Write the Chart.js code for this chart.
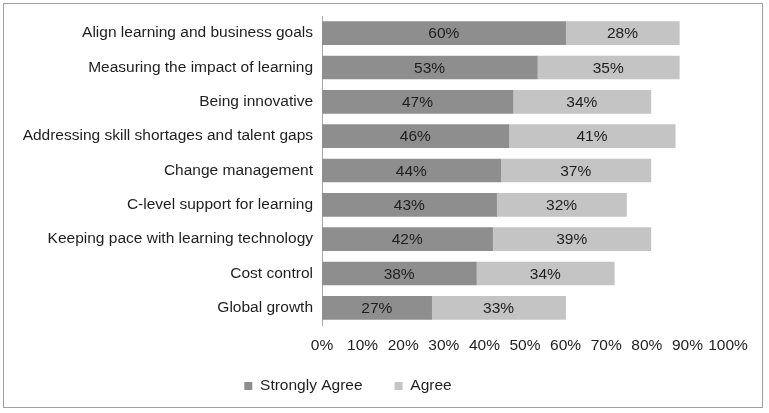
<!DOCTYPE html>
<html>
<head>
  <title>L&D challenges</title>
  <script src="https://cdn.jsdelivr.net/npm/chart.js"></script>
</head>
<body style="margin:0;background:#fff;">
  <div style="position:absolute;left:3px;top:3px;width:758px;height:403px;border:1px solid #a0a0a0;">
    <canvas id="chart" width="758" height="403"></canvas>
  </div>

  <script>
    const categories = [
      "Align learning and business goals",
      "Measuring the impact of learning",
      "Being innovative",
      "Addressing skill shortages and talent gaps",
      "Change management",
      "C-level support for learning",
      "Keeping pace with learning technology",
      "Cost control",
      "Global growth"
    ];
    const stronglyAgree = [60, 53, 47, 46, 44, 43, 42, 38, 27];
    const agree = [28, 35, 34, 41, 37, 32, 39, 34, 33];
    const xTicks = [0, 10, 20, 30, 40, 50, 60, 70, 80, 90, 100];

    const FONT = "'Liberation Sans', Arial, sans-serif";
    Chart.defaults.font.family = FONT;
    Chart.defaults.font.size = 15.5;
    Chart.defaults.color = "#1e1e1e";

    // percentage text in the middle of each bar segment
    const barLabels = {
      id: "barLabels",
      afterDatasetsDraw(chart) {
        const ctx = chart.ctx;
        ctx.save();
        ctx.font = "15.5px " + FONT;
        ctx.fillStyle = "#1e1e1e";
        ctx.textAlign = "center";
        ctx.textBaseline = "middle";
        chart.data.datasets.forEach((ds, i) => {
          chart.getDatasetMeta(i).data.forEach((bar, j) => {
            ctx.fillText(ds.data[j] + "%", (bar.x + bar.base) / 2, bar.y + 1);
          });
        });
        ctx.restore();
      }
    };

    // legend sits a bit left of centre and a bit higher in the original
    const legendShift = {
      id: "legendShift",
      afterLayout(chart) {
        const lg = chart.legend;
        lg.left -= 18;
        lg.right -= 18;
        lg.top -= 12.75;
        lg.bottom -= 12.75;
      }
    };

    new Chart(document.getElementById("chart"), {
      type: "bar",
      data: {
        labels: categories,
        datasets: [
          { label: "Strongly Agree", data: stronglyAgree, backgroundColor: "#8e8e8e" },
          { label: "Agree", data: agree, backgroundColor: "#c4c4c4" }
        ]
      },
      options: {
        indexAxis: "y",
        responsive: false,
        animation: false,
        barThickness: 23,
        layout: { padding: { top: 12, right: 34, bottom: 0, left: 0 } },
        scales: {
          x: {
            stacked: true,
            min: 0,
            max: 100,
            afterBuildTicks(scale) {
              scale.ticks = xTicks.map(v => ({ value: v }));
            },
            ticks: { callback: v => v + "%", padding: 11, maxRotation: 0, autoSkip: false },
            grid: { display: false, drawTicks: false },
            border: { display: false },
            afterFit(scale) { scale.height = 34; }
          },
          y: {
            stacked: true,
            ticks: { padding: 9 },
            grid: { display: false, drawTicks: false },
            border: { display: true, color: "#a8a8a8", width: 1 },
            afterFit(scale) {
              scale.width = 318;
              scale.paddingTop = 0;
              scale.paddingBottom = 0;
            }
          }
        },
        plugins: {
          legend: {
            position: "bottom",
            maxHeight: 48,
            labels: { boxWidth: 8, boxHeight: 8, padding: 32 }
          },
          tooltip: { enabled: false }
        }
      },
      plugins: [barLabels, legendShift]
    });
  </script>
</body>
</html>
